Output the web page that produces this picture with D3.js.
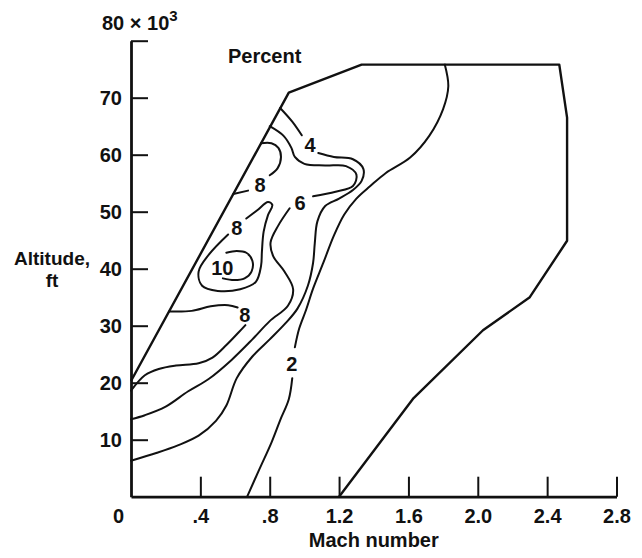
<!DOCTYPE html>
<html>
<head>
<meta charset="utf-8">
<script src="https://cdn.jsdelivr.net/npm/d3@7"></script>
<style>
  body { margin: 0; background: #fff; }
  svg { display: block; font-family: "Liberation Sans", Arial, Helvetica, sans-serif; font-weight: bold; }
</style>
</head>
<body>
<div id="chart"></div>
<script>
//axis ticks
var machTicks = [0, 0.4, 0.8, 1.2, 1.6, 2.0, 2.4, 2.8];
var machTickLabels = ["0", ".4", ".8", "1.2", "1.6", "2.0", "2.4", "2.8"];
var altTicks = [10, 20, 30, 40, 50, 60, 70, 80];
var altTickLabels = ["10", "20", "30", "40", "50", "60", "70", ""];

//outer envelope (mach, altitude in 1000 ft)
var envelope = [[0, 20.3], [0.91, 70.9], [1.33, 75.8], [2.47, 75.8], [2.515, 66.5],
    [2.515, 44.9], [2.30, 35], [2.03, 29.2], [1.63, 17.3], [1.2, 0]];

//contour lines, split where the labels sit
var contour2a = [[1.81, 75.8], [1.83, 72], [1.80, 68], [1.72, 63.3], [1.61, 59.5], [1.47, 56.8],
    [1.38, 54.5], [1.30, 52.3], [1.23, 49.5], [1.17, 45.8], [1.11, 41.1], [1.05, 36.5],
    [1.01, 32.8], [0.97, 29.5], [0.945, 26.2]];
var contour2b = [[0.93, 20.8], [0.91, 17.1], [0.86, 13.4], [0.81, 9.5], [0.74, 4.8], [0.67, 0]];

var contour4a = [[0.86, 68.2], [0.93, 65.8], [0.985, 63.4]];
var contour4b = [[1.08, 60.3], [1.17, 59.6], [1.28, 59.2], [1.34, 57.5], [1.33, 55.4], [1.28, 53.8],
    [1.20, 52.3], [1.12, 51], [1.075, 48.3], [1.06, 44.5], [1.05, 41], [1.02, 37], [0.96, 33],
    [0.89, 30.4], [0.80, 27.6], [0.70, 24.6], [0.61, 20.8], [0.55, 16], [0.49, 13.3],
    [0.39, 10.7], [0.27, 9], [0.15, 7.7], [0, 6.3]];

var contour6a = [[0.80, 65], [0.88, 63.3], [0.925, 61.2], [0.945, 59.6], [1.0, 58.4], [1.12, 58.1],
    [1.24, 58], [1.30, 56.5], [1.28, 54.5], [1.18, 53.5], [1.05, 52.7]];
var contour6b = [[0.915, 50.6], [0.85, 47.6], [0.805, 44.6], [0.82, 42.2], [0.885, 39.5],
    [0.935, 36.4], [0.905, 33.5], [0.80, 30.8], [0.70, 27.6], [0.58, 24], [0.45, 20.7],
    [0.33, 18.5], [0.20, 15.8], [0.08, 14.3], [0, 13.6]];

var contour8Topa = [[0.75, 62.0], [0.81, 62.0], [0.85, 61.2], [0.865, 59.6], [0.845, 57.6], [0.80, 56.4]];
var contour8Topb = [[0.675, 53.7], [0.59, 53.1]];

var contour8Mid = [[0.665, 48.8], [0.73, 50.3], [0.79, 51.7], [0.815, 51.2], [0.79, 49.4],
    [0.765, 46.5], [0.755, 43], [0.75, 40.5], [0.72, 37.7], [0.63, 36.4], [0.50, 36.1],
    [0.41, 37], [0.39, 39.5], [0.45, 42.5], [0.56, 46]];

var contour10 = [[0.55, 42.8], [0.61, 43.1], [0.665, 42.8], [0.70, 41.4], [0.695, 39.5],
    [0.655, 38.3], [0.595, 38.0], [0.53, 38.3]];

var contour8Lowa = [[0.22, 32.5], [0.35, 32.6], [0.46, 33.4], [0.56, 33.6], [0.615, 33.2]];
var contour8Lowb = [[0.66, 30.1], [0.62, 28.8], [0.55, 26.6], [0.47, 24.4], [0.39, 23.4],
    [0.26, 23], [0.16, 22.4], [0.08, 21.3], [0, 18.6]];

var contourLines = [contour2a, contour2b, contour4a, contour4b, contour6a, contour6b,
    contour8Topa, contour8Topb, contour8Mid, contour10, contour8Lowa, contour8Lowb];

//contour label text and spots
var labelText = ["4", "8", "6", "8", "10", "8", "2"];
var labelMach = [1.032, 0.744, 0.975, 0.61, 0.527, 0.657, 0.927];
var labelAlt = [61.7, 54.7, 51.5, 47.1, 40.2, 31.9, 23.4];

//set svg dimensions
var svgWidth = 642;
var svgHeight = 558;

var margin = { top: 40.7, right: 25.5, bottom: 61.3, left: 131 };
var width = svgWidth - margin.left - margin.right;
var height = svgHeight - margin.top - margin.bottom;

var fontSize = "20px";

var svg = d3.select("#chart").append("svg")
    .attr("width", svgWidth)
    .attr("height", svgHeight);

svg.append("rect")
    .attr("width", svgWidth)
    .attr("height", svgHeight)
    .attr("fill", "#fff");

var chartGroup = svg.append("g")
    .attr("transform", `translate(${margin.left}, ${margin.top})`);

//scales
var xScale = d3.scaleLinear().domain([0, 2.8]).range([0, width]);
var yScale = d3.scaleLinear().domain([0, 80]).range([height, 0]);

//x axis, ticks pointing up
var bottomAxis = d3.axisBottom(xScale)
    .tickValues(machTicks)
    .tickSize(-20)
    .tickSizeOuter(0)
    .tickFormat((d, i) => machTickLabels[i]);

var xAxis = chartGroup.append("g")
    .attr("transform", `translate(0, ${height})`)
    .call(bottomAxis);

xAxis.select(".domain").attr("stroke", "#111").attr("stroke-width", 2.8);
xAxis.selectAll(".tick line").attr("stroke", "#111").attr("stroke-width", 2);
xAxis.selectAll(".tick line").filter(d => d === 0).remove();
xAxis.selectAll(".tick text")
    .attr("y", 26.5)
    .attr("dy", 0)
    .attr("x", d => d === 0 ? -13 : 0)
    .attr("font-size", fontSize)
    .attr("font-weight", "bold")
    .attr("font-family", "Liberation Sans, Arial, sans-serif")
    .attr("fill", "#111");

//y axis, ticks pointing right
var leftAxis = d3.axisLeft(yScale)
    .tickValues(altTicks)
    .tickSize(-17)
    .tickSizeOuter(0)
    .tickPadding(9)
    .tickFormat((d, i) => altTickLabels[i]);

var yAxis = chartGroup.append("g")
    .call(leftAxis);

yAxis.select(".domain").attr("stroke", "#111").attr("stroke-width", 2.8);
yAxis.selectAll(".tick line").attr("stroke", "#111").attr("stroke-width", 2);
yAxis.selectAll(".tick text")
    .attr("dy", "0.36em")
    .attr("font-size", fontSize)
    .attr("font-weight", "bold")
    .attr("font-family", "Liberation Sans, Arial, sans-serif")
    .attr("fill", "#111");

//envelope
var envLine = d3.line()
    .x(d => xScale(d[0]))
    .y(d => yScale(d[1]));

chartGroup.append("path")
    .attr("d", envLine(envelope))
    .attr("fill", "none")
    .attr("stroke", "#111")
    .attr("stroke-width", 2.4)
    .attr("stroke-linejoin", "round");

//contours
var contourLine = d3.line()
    .x(d => xScale(d[0]))
    .y(d => yScale(d[1]))
    .curve(d3.curveCatmullRom.alpha(0.5));

chartGroup.selectAll(".contour")
    .data(contourLines)
    .enter()
    .append("path")
    .classed("contour", true)
    .attr("d", d => contourLine(d))
    .attr("fill", "none")
    .attr("stroke", "#111")
    .attr("stroke-width", 2)
    .attr("stroke-linecap", "round");

//contour labels
chartGroup.selectAll(".clabel")
    .data(labelText)
    .enter()
    .append("text")
    .classed("clabel", true)
    .attr("x", (d, i) => xScale(labelMach[i]))
    .attr("y", (d, i) => yScale(labelAlt[i]))
    .attr("dy", "0.36em")
    .attr("text-anchor", "middle")
    .attr("font-size", fontSize)
    .attr("fill", "#111")
    .text(d => d);

//titles
svg.append("text")
    .attr("x", 228)
    .attr("y", 63)
    .attr("font-size", fontSize)
    .attr("fill", "#111")
    .text("Percent");

var topLabel = svg.append("text")
    .attr("x", 102)
    .attr("y", 30)
    .attr("font-size", fontSize)
    .attr("fill", "#111");
topLabel.append("tspan").text("80 \u00d7 10");
topLabel.append("tspan").attr("dy", -9).attr("font-size", "15px").text("3");

svg.append("text")
    .attr("x", 52)
    .attr("y", 264.5)
    .attr("text-anchor", "middle")
    .attr("font-size", "19px")
    .attr("fill", "#111")
    .text("Altitude,");

svg.append("text")
    .attr("x", 52)
    .attr("y", 287)
    .attr("text-anchor", "middle")
    .attr("font-size", "19px")
    .attr("fill", "#111")
    .text("ft");

svg.append("text")
    .attr("x", margin.left + width / 2)
    .attr("y", 547)
    .attr("text-anchor", "middle")
    .attr("font-size", fontSize)
    .attr("fill", "#111")
    .text("Mach number");
</script>
</body>
</html>
